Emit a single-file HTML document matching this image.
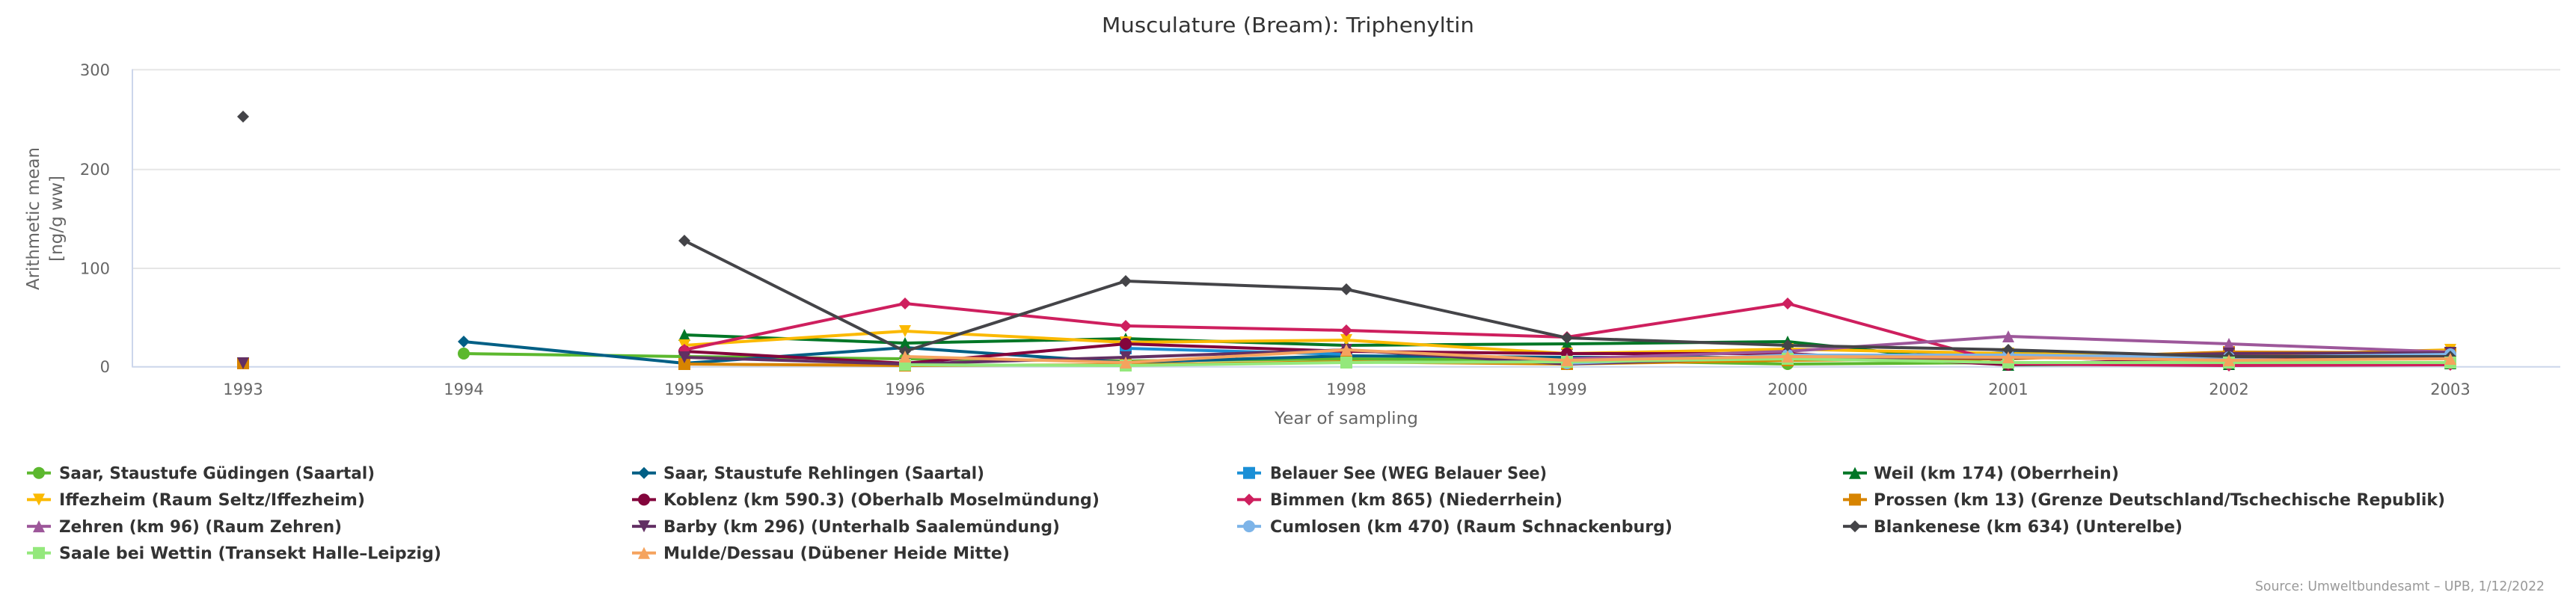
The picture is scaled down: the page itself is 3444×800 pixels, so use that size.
<!DOCTYPE html>
<html>
<head>
<meta charset="utf-8">
<style>
html,body{margin:0;padding:0;background:#fff;}
svg{display:block;}
text{font-family:"DejaVu Sans","Liberation Sans",sans-serif;}
</style>
</head>
<body>
<svg width="3444" height="800" viewBox="0 0 3444 800" xmlns="http://www.w3.org/2000/svg">
<defs>
<circle id="c" cx="0" cy="0" r="8"/>
<rect id="s" x="-8" y="-8" width="16" height="16"/>
<path id="d" d="M0,-8L8,0L0,8L-8,0Z"/>
<path id="t" d="M0,-8L8,8L-8,8Z"/>
<path id="v" d="M-8,-8L8,-8L0,8Z"/>
</defs>
<rect width="3444" height="800" fill="#fff"/>

<!-- title -->
<text x="1722" y="43" text-anchor="middle" font-size="28" fill="#333" textLength="498" lengthAdjust="spacingAndGlyphs">Musculature (Bream): Triphenyltin</text>

<!-- grid -->
<g stroke="#e6e6e6" stroke-width="2">
<line x1="177" y1="93.3" x2="3423" y2="93.3"/>
<line x1="177" y1="226.7" x2="3423" y2="226.7"/>
<line x1="177" y1="359" x2="3423" y2="359"/>
</g>
<line x1="177" y1="490.7" x2="3423" y2="490.7" stroke="#ccd6eb" stroke-width="2"/>
<line x1="177" y1="92.5" x2="177" y2="491.5" stroke="#ccd6eb" stroke-width="2"/>

<!-- y ticks -->
<g font-size="21" fill="#666" text-anchor="end">
<text x="147" y="101">300</text>
<text x="147" y="234">200</text>
<text x="147" y="366.5">100</text>
<text x="147" y="498">0</text>
</g>
<!-- y title -->
<g font-size="23" fill="#666" text-anchor="middle">
<text transform="translate(52,292.5) rotate(-90)" textLength="191" lengthAdjust="spacingAndGlyphs">Arithmetic mean</text>
<text transform="translate(83,292.5) rotate(-90)" textLength="115" lengthAdjust="spacingAndGlyphs">[ng/g ww]</text>
</g>

<!-- x ticks -->
<g font-size="21" fill="#666" text-anchor="middle">
<text x="325" y="528">1993</text>
<text x="620" y="528">1994</text>
<text x="915" y="528">1995</text>
<text x="1210" y="528">1996</text>
<text x="1505" y="528">1997</text>
<text x="1800" y="528">1998</text>
<text x="2095" y="528">1999</text>
<text x="2390" y="528">2000</text>
<text x="2685" y="528">2001</text>
<text x="2980" y="528">2002</text>
<text x="3276" y="528">2003</text>
</g>
<text x="1800" y="567" text-anchor="middle" font-size="22" fill="#666" textLength="192" lengthAdjust="spacingAndGlyphs">Year of sampling</text>

<!-- series -->
<g fill="none" stroke-width="4" stroke-linejoin="round" stroke-linecap="round">
<!-- 1 Güdingen -->
<polyline stroke="#5cb82e" points="620,473 915,477 1210,480 1505,483 1800,480 2095,482 2390,487 2685,485 2980,486 3276,486"/>
</g>
<g fill="#5cb82e"><use href="#c" x="620" y="473"/><use href="#c" x="915" y="477"/><use href="#c" x="1210" y="480"/><use href="#c" x="1505" y="483"/><use href="#c" x="1800" y="480"/><use href="#c" x="2095" y="482"/><use href="#c" x="2390" y="487"/><use href="#c" x="2685" y="485"/><use href="#c" x="2980" y="486"/><use href="#c" x="3276" y="486"/></g>

<!-- 2 Rehlingen -->
<polyline fill="none" stroke-width="4" stroke-linejoin="round" stroke="#005f85" points="620,457 915,486 1210,465 1505,485 1800,476 2095,478 2390,478 2685,472 2980,478 3276,480"/>
<g fill="#005f85"><use href="#d" x="620" y="457"/><use href="#d" x="915" y="486"/><use href="#d" x="1210" y="465"/><use href="#d" x="1505" y="485"/><use href="#d" x="1800" y="476"/><use href="#d" x="2095" y="478"/><use href="#d" x="2390" y="478"/><use href="#d" x="2685" y="472"/><use href="#d" x="2980" y="478"/><use href="#d" x="3276" y="480"/></g>

<!-- 3 Belauer See -->
<polyline fill="none" stroke-width="4" stroke-linejoin="round" stroke="#1a8fd6" points="1505,466 1800,474"/>
<g fill="#1a8fd6"><use href="#s" x="1505" y="466"/><use href="#s" x="1800" y="474"/></g>

<!-- 4 Weil -->
<polyline fill="none" stroke-width="4" stroke-linejoin="round" stroke="#007626" points="915,448 1210,459 1505,453 1800,462 2095,460 2390,457 2685,488 2980,487 3276,486"/>
<g fill="#007626"><use href="#t" x="915" y="448"/><use href="#t" x="1210" y="459"/><use href="#t" x="1505" y="453"/><use href="#t" x="1800" y="462"/><use href="#t" x="2095" y="460"/><use href="#t" x="2390" y="457"/><use href="#t" x="2685" y="488"/><use href="#t" x="2980" y="487"/><use href="#t" x="3276" y="486"/></g>

<!-- 5 Iffezheim -->
<polyline fill="none" stroke-width="4" stroke-linejoin="round" stroke="#fbb900" points="915,462 1210,443 1505,458 1800,455 2095,473 2390,467 2685,473 2980,476 3276,468"/>
<g fill="#fbb900"><use href="#v" x="915" y="462"/><use href="#v" x="1210" y="443"/><use href="#v" x="1505" y="458"/><use href="#v" x="1800" y="455"/><use href="#v" x="2095" y="473"/><use href="#v" x="2390" y="467"/><use href="#v" x="2685" y="473"/><use href="#v" x="2980" y="476"/><use href="#v" x="3276" y="468"/></g>

<!-- 6 Koblenz -->
<polyline fill="none" stroke-width="4" stroke-linejoin="round" stroke="#83053c" points="915,470 1210,486 1505,460 1800,470 2095,473 2390,473 2685,488 2980,479 3276,479"/>
<g fill="#83053c"><use href="#c" x="915" y="470"/><use href="#c" x="1210" y="486"/><use href="#c" x="1505" y="460"/><use href="#c" x="1800" y="470"/><use href="#c" x="2095" y="473"/><use href="#c" x="2390" y="473"/><use href="#c" x="2685" y="488"/><use href="#c" x="2980" y="479"/><use href="#c" x="3276" y="479"/></g>

<!-- 7 Bimmen -->
<polyline fill="none" stroke-width="4" stroke-linejoin="round" stroke="#ce1f5e" points="915,468 1210,406 1505,436 1800,442 2095,451 2390,406 2685,487 2980,489 3276,488"/>
<g fill="#ce1f5e"><use href="#d" x="915" y="468"/><use href="#d" x="1210" y="406"/><use href="#d" x="1505" y="436"/><use href="#d" x="1800" y="442"/><use href="#d" x="2095" y="451"/><use href="#d" x="2390" y="406"/><use href="#d" x="2685" y="487"/><use href="#d" x="2980" y="489"/><use href="#d" x="3276" y="488"/></g>

<!-- 8 Prossen -->
<polyline fill="none" stroke-width="4" stroke-linejoin="round" stroke="#d78400" points="915,487 1210,489 1505,488 1800,484 2095,487 2390,482 2685,480 2980,471 3276,472"/>
<g fill="#d78400"><use href="#s" x="325" y="486"/><use href="#s" x="915" y="487"/><use href="#s" x="1210" y="489"/><use href="#s" x="1505" y="488"/><use href="#s" x="1800" y="484"/><use href="#s" x="2095" y="487"/><use href="#s" x="2390" y="482"/><use href="#s" x="2685" y="480"/><use href="#s" x="2980" y="471"/><use href="#s" x="3276" y="472"/></g>

<!-- 9 Zehren -->
<polyline fill="none" stroke-width="4" stroke-linejoin="round" stroke="#9d579a" points="2095,480 2390,470 2685,450 2980,460 3276,471"/>
<g fill="#9d579a"><use href="#t" x="2095" y="480"/><use href="#t" x="2390" y="470"/><use href="#t" x="2685" y="450"/><use href="#t" x="2980" y="460"/><use href="#t" x="3276" y="471"/></g>

<!-- 10 Barby -->
<polyline fill="none" stroke-width="4" stroke-linejoin="round" stroke="#622f63" points="915,478 1210,487 1505,478 1800,468 2095,487 2390,478 2685,479 2980,473 3276,472"/>
<g fill="#622f63"><use href="#v" x="325" y="486"/><use href="#v" x="915" y="478"/><use href="#v" x="1210" y="487"/><use href="#v" x="1505" y="478"/><use href="#v" x="1800" y="468"/><use href="#v" x="2095" y="487"/><use href="#v" x="2390" y="478"/><use href="#v" x="2685" y="479"/><use href="#v" x="2980" y="473"/><use href="#v" x="3276" y="472"/></g>

<!-- 11 Cumlosen -->
<polyline fill="none" stroke-width="4" stroke-linejoin="round" stroke="#7db4e8" points="2095,486 2390,475 2685,475 2980,478 3276,474"/>
<g fill="#7db4e8"><use href="#c" x="2095" y="486"/><use href="#c" x="2390" y="475"/><use href="#c" x="2685" y="475"/><use href="#c" x="2980" y="478"/><use href="#c" x="3276" y="474"/></g>

<!-- 12 Blankenese -->
<polyline fill="none" stroke-width="4" stroke-linejoin="round" stroke="#444448" points="915,322 1210,470 1505,376 1800,387 2095,452 2390,462 2685,468 2980,477 3276,477"/>
<g fill="#444448"><use href="#d" x="325" y="156"/><use href="#d" x="915" y="322"/><use href="#d" x="1210" y="470"/><use href="#d" x="1505" y="376"/><use href="#d" x="1800" y="387"/><use href="#d" x="2095" y="452"/><use href="#d" x="2390" y="462"/><use href="#d" x="2685" y="468"/><use href="#d" x="2980" y="477"/><use href="#d" x="3276" y="477"/></g>

<!-- 13 Saale -->
<polyline fill="none" stroke-width="4" stroke-linejoin="round" stroke="#94e87c" points="1210,488 1505,489 1800,485 2095,484 2390,480 2685,485 2980,485 3276,485"/>
<g fill="#94e87c"><use href="#s" x="1210" y="488"/><use href="#s" x="1505" y="489"/><use href="#s" x="1800" y="485"/><use href="#s" x="2095" y="484"/><use href="#s" x="2390" y="480"/><use href="#s" x="2685" y="485"/><use href="#s" x="2980" y="485"/><use href="#s" x="3276" y="485"/></g>

<!-- 14 Mulde -->
<polyline fill="none" stroke-width="4" stroke-linejoin="round" stroke="#f5a35e" points="1210,477 1505,485 1800,468 2095,482 2390,477 2685,478 2980,482 3276,480"/>
<g fill="#f5a35e"><use href="#t" x="1210" y="477"/><use href="#t" x="1505" y="485"/><use href="#t" x="1800" y="468"/><use href="#t" x="2095" y="482"/><use href="#t" x="2390" y="477"/><use href="#t" x="2685" y="478"/><use href="#t" x="2980" y="482"/><use href="#t" x="3276" y="480"/></g>

<!-- legend -->
<g stroke-width="4">
<line x1="36" y1="632.7" x2="68" y2="632.7" stroke="#5cb82e"/>
<line x1="845" y1="632.7" x2="877" y2="632.7" stroke="#005f85"/>
<line x1="1654" y1="632.7" x2="1686" y2="632.7" stroke="#1a8fd6"/>
<line x1="2464" y1="632.7" x2="2496" y2="632.7" stroke="#007626"/>
<line x1="36" y1="668.4" x2="68" y2="668.4" stroke="#fbb900"/>
<line x1="845" y1="668.4" x2="877" y2="668.4" stroke="#83053c"/>
<line x1="1654" y1="668.4" x2="1686" y2="668.4" stroke="#ce1f5e"/>
<line x1="2464" y1="668.4" x2="2496" y2="668.4" stroke="#d78400"/>
<line x1="36" y1="704.1" x2="68" y2="704.1" stroke="#9d579a"/>
<line x1="845" y1="704.1" x2="877" y2="704.1" stroke="#622f63"/>
<line x1="1654" y1="704.1" x2="1686" y2="704.1" stroke="#7db4e8"/>
<line x1="2464" y1="704.1" x2="2496" y2="704.1" stroke="#444448"/>
<line x1="36" y1="739.8" x2="68" y2="739.8" stroke="#94e87c"/>
<line x1="845" y1="739.8" x2="877" y2="739.8" stroke="#f5a35e"/>
</g>
<use href="#c" x="52" y="632.7" fill="#5cb82e"/>
<use href="#d" x="861" y="632.7" fill="#005f85"/>
<use href="#s" x="1670" y="632.7" fill="#1a8fd6"/>
<use href="#t" x="2480" y="632.7" fill="#007626"/>
<use href="#v" x="52" y="668.4" fill="#fbb900"/>
<use href="#c" x="861" y="668.4" fill="#83053c"/>
<use href="#d" x="1670" y="668.4" fill="#ce1f5e"/>
<use href="#s" x="2480" y="668.4" fill="#d78400"/>
<use href="#t" x="52" y="704.1" fill="#9d579a"/>
<use href="#v" x="861" y="704.1" fill="#622f63"/>
<use href="#c" x="1670" y="704.1" fill="#7db4e8"/>
<use href="#d" x="2480" y="704.1" fill="#444448"/>
<use href="#s" x="52" y="739.8" fill="#94e87c"/>
<use href="#t" x="861" y="739.8" fill="#f5a35e"/>

<g font-size="22" font-weight="bold" fill="#333" lengthAdjust="spacingAndGlyphs">
<text x="79" y="640.5" textLength="422" lengthAdjust="spacingAndGlyphs">Saar, Staustufe Güdingen (Saartal)</text>
<text x="887" y="640.5" textLength="429" lengthAdjust="spacingAndGlyphs">Saar, Staustufe Rehlingen (Saartal)</text>
<text x="1698" y="640.5" textLength="370" lengthAdjust="spacingAndGlyphs">Belauer See (WEG Belauer See)</text>
<text x="2505" y="640.5" textLength="328" lengthAdjust="spacingAndGlyphs">Weil (km 174) (Oberrhein)</text>
<text x="79" y="676.2" textLength="409" lengthAdjust="spacingAndGlyphs">Iffezheim (Raum Seltz/Iffezheim)</text>
<text x="887" y="676.2" textLength="583" lengthAdjust="spacingAndGlyphs">Koblenz (km 590.3) (Oberhalb Moselmündung)</text>
<text x="1698" y="676.2" textLength="391" lengthAdjust="spacingAndGlyphs">Bimmen (km 865) (Niederrhein)</text>
<text x="2505" y="676.2" textLength="764" lengthAdjust="spacingAndGlyphs">Prossen (km 13) (Grenze Deutschland/Tschechische Republik)</text>
<text x="79" y="711.9" textLength="378" lengthAdjust="spacingAndGlyphs">Zehren (km 96) (Raum Zehren)</text>
<text x="887" y="711.9" textLength="530" lengthAdjust="spacingAndGlyphs">Barby (km 296) (Unterhalb Saalemündung)</text>
<text x="1698" y="711.9" textLength="538" lengthAdjust="spacingAndGlyphs">Cumlosen (km 470) (Raum Schnackenburg)</text>
<text x="2505" y="711.9" textLength="413" lengthAdjust="spacingAndGlyphs">Blankenese (km 634) (Unterelbe)</text>
<text x="79" y="747.6" textLength="511" lengthAdjust="spacingAndGlyphs">Saale bei Wettin (Transekt Halle–Leipzig)</text>
<text x="887" y="747.6" textLength="463" lengthAdjust="spacingAndGlyphs">Mulde/Dessau (Dübener Heide Mitte)</text>
</g>

<text x="3402" y="790" text-anchor="end" font-size="18" fill="#999" textLength="387" lengthAdjust="spacingAndGlyphs">Source: Umweltbundesamt – UPB, 1/12/2022</text>
</svg>
</body>
</html>
